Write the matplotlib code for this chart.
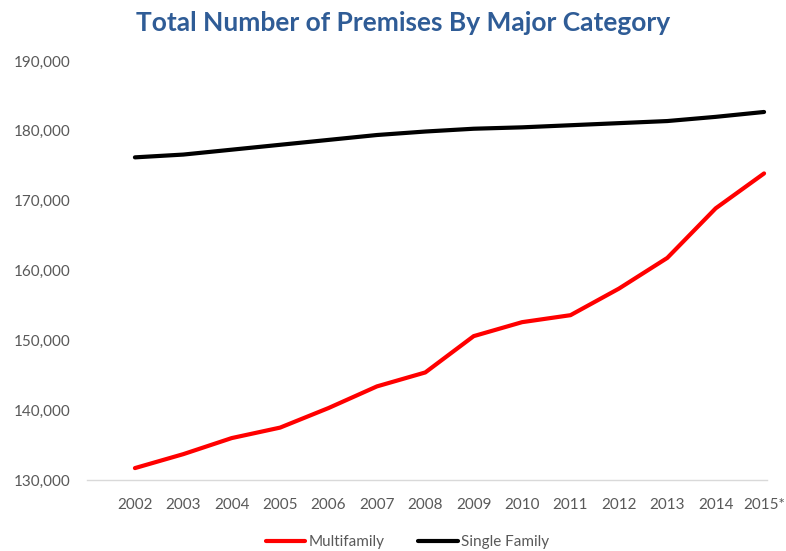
import matplotlib.pyplot as plt
from matplotlib.ticker import FuncFormatter

years = ['2002', '2003', '2004', '2005', '2006', '2007', '2008',
         '2009', '2010', '2011', '2012', '2013', '2014', '2015*']
multifamily = [131700, 133700, 136000, 137500, 140300, 143400, 145400,
               150600, 152600, 153600, 157400, 161800, 168900, 173900]
single_family = [176200, 176600, 177300, 178000, 178700, 179400, 179900,
                 180300, 180500, 180800, 181100, 181400, 182000, 182700]

plt.rcParams['font.family'] = ['Lato', 'DejaVu Sans']

fig = plt.figure(figsize=(7.86, 5.51), dpi=100)
ax = fig.add_axes([0.1107, 0.1289, 0.8651, 0.7604])

x = list(range(len(years)))
ax.plot(x, multifamily, color='#ff0000', lw=3, label='Multifamily', solid_capstyle='round')
ax.plot(x, single_family, color='#000000', lw=3, label='Single Family', solid_capstyle='round')

ax.set_ylim(130000, 190000)
ax.set_yticks(range(130000, 190001, 10000))
ax.yaxis.set_major_formatter(FuncFormatter(lambda v, p: f'{int(v):,}'))
ax.set_xlim(-0.99, 13.06)
ax.set_xticks(x)
ax.set_xticklabels(years)

for s in ['top', 'right', 'left']:
    ax.spines[s].set_visible(False)
ax.spines['bottom'].set_color('#d9d9d9')
ax.spines['bottom'].set_linewidth(1)
ax.tick_params(axis='both', length=0, labelsize=11, colors='#595959')
ax.tick_params(axis='y', pad=12)
ax.tick_params(axis='x', pad=13)

fig.suptitle('Total Number of Premises By Major Category', x=0.513, y=0.98,
             fontsize=19, fontweight='bold', color='#2f5c96')

fig.legend(loc='lower center', bbox_to_anchor=(0.518, -0.022), ncol=2, frameon=False,
           fontsize=11, handlelength=2.6, columnspacing=2.2, handletextpad=0.2,
           labelcolor='#595959')

fig.savefig('out.png', dpi=100)
